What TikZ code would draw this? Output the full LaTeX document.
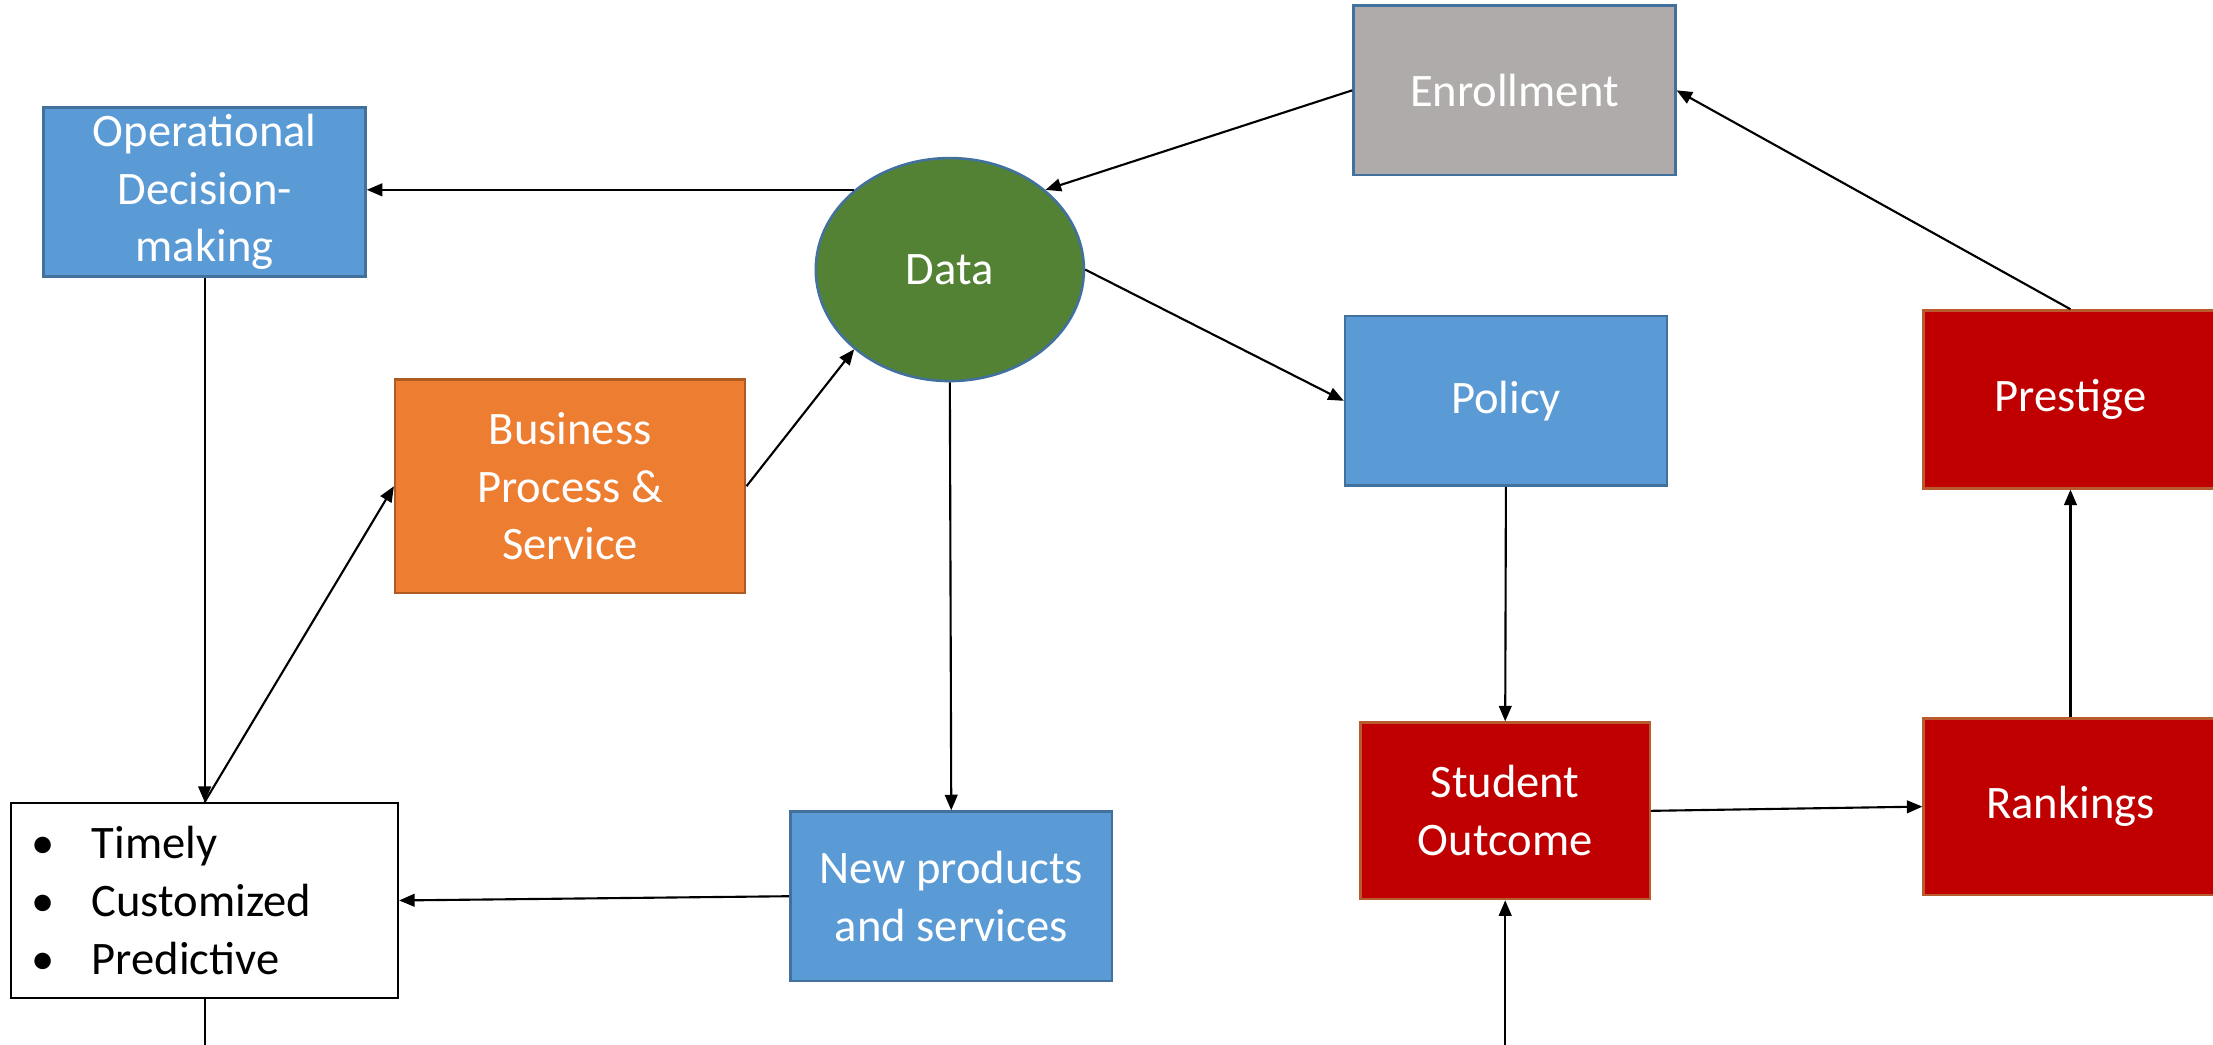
\documentclass[tikz,border=0pt]{standalone}
\usepackage{fontspec}
\setmainfont{Carlito}
\usetikzlibrary{arrows.meta,shapes.geometric}
\definecolor{boxblue}{HTML}{5B9BD5}
\definecolor{edgeblue}{HTML}{41719C}
\definecolor{boxorange}{HTML}{ED7D31}
\definecolor{edgeorange}{HTML}{AE5A21}
\definecolor{boxgreen}{HTML}{548235}
\definecolor{boxgrey}{HTML}{AFABAB}
\definecolor{boxred}{HTML}{C00000}
\definecolor{edgered}{HTML}{B85C30}
\begin{document}
\begin{tikzpicture}[x=0.5pt,y=-0.5pt,
  every node/.style={font=\fontsize{16.5}{20.5}\selectfont, inner sep=0pt, align=center},
  base/.style={rectangle, line width=0.9pt, text=white},
  bluebox/.style={base, fill=boxblue, draw=edgeblue},
  orangebox/.style={base, fill=boxorange, draw=edgeorange},
  greybox/.style={base, fill=boxgrey, draw=edgeblue},
  redbox/.style={base, fill=boxred, draw=edgered},
  listbox/.style={rectangle, line width=0.8pt, draw=black, fill=white, text=black, align=left},
  dataell/.style={ellipse, fill=boxgreen, draw=edgeblue, line width=0.9pt, text=white},
  conn/.style={line width=0.75pt, draw=black, -{Triangle[length=5.5pt,width=4.5pt]}},
  plain/.style={line width=0.75pt, draw=black}
]
\useasboundingbox (0,0) rectangle (1568,740);
\fill[white] (0,0) rectangle (1568,740);

\node[bluebox, minimum width=114pt, minimum height=60pt] (op) at (145,136) {Operational\\Decision-\\making};
\node[greybox, minimum width=114pt, minimum height=60pt] (enr) at (1073,64) {Enrollment};
\node[dataell, minimum width=95pt, minimum height=79pt] (data) at (673,191) {Data};
\node[orangebox, minimum width=124pt, minimum height=75.5pt] (bus) at (404,344.5) {Business\\Process \&\\Service};
\node[bluebox, minimum width=114pt, minimum height=60pt] (pol) at (1067,284) {Policy};
\node[redbox, minimum width=104pt, minimum height=63pt] (pre) at (1467,283) {Prestige};
\node[redbox, minimum width=104pt, minimum height=62.5pt] (rank) at (1467,571.5) {Rankings};
\node[redbox, minimum width=102.5pt, minimum height=62.5pt] (so) at (1066.5,574.5) {Student\\Outcome};
\node[listbox, minimum width=137pt, minimum height=69pt, text width=137pt] (tim) at (145,638)
  {\hspace*{7pt}\makebox[21.5pt][l]{•}Timely\\\hspace*{7pt}\makebox[21.5pt][l]{•}Customized\\\hspace*{7pt}\makebox[21.5pt][l]{•}Predictive};
\node[bluebox, minimum width=114pt, minimum height=60pt] (np) at (674,635) {New products\\and services};

\coordinate (timout) at (145,745);
\coordinate (soin) at (1066.5,745);

\draw[conn] (data.north west) -- (data.north west -| op.east);
\draw[conn] (enr.west) -- (data.north east);
\draw[conn] (data.east) -- (pol.west);
\draw[conn] (bus.east) -- (data.south west);
\draw[conn] (tim.north) -- (bus.west);
\draw[conn] (op.south) -- (tim.north);
\draw[conn] (data.south) -- (np.north);
\draw[conn] (np.west) -- (tim.east);
\draw[plain] (tim.south) -- (timout);
\draw[conn] (pol.south) -- (so.north);
\draw[conn] (soin) -- (so.south);
\draw[conn] (so.east) -- (rank.west);
\draw[conn] (rank.north) -- (pre.south);
\draw[conn] (pre.north) -- (enr.east);
\end{tikzpicture}
\end{document}
